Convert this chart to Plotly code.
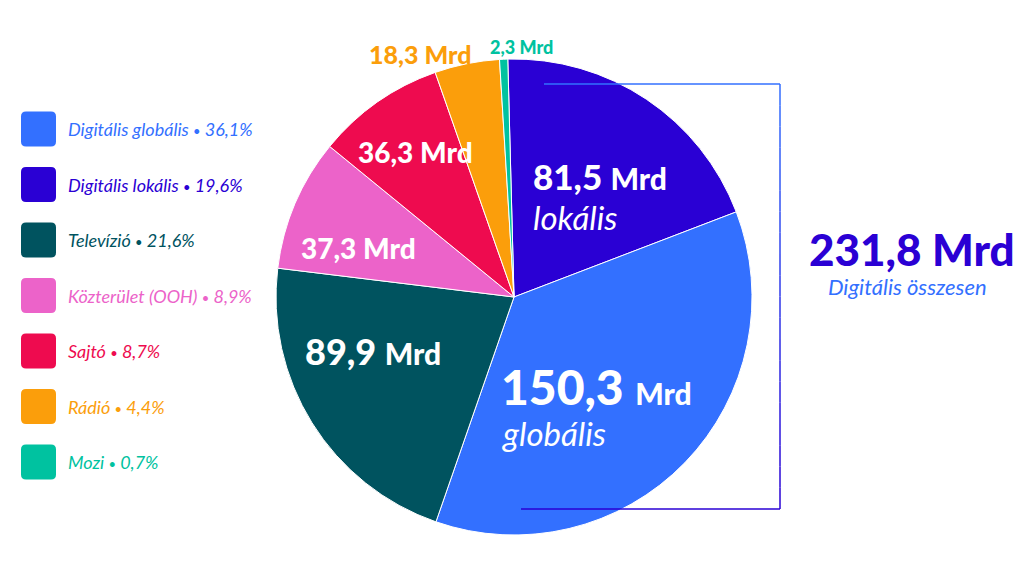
import plotly.graph_objects as go

# ---- data ----
categories = ["Digitális lokális", "Digitális globális", "Televízió",
              "Közterület (OOH)", "Sajtó", "Rádió", "Mozi"]
values = [81.5, 150.3, 89.9, 37.3, 36.3, 18.3, 2.3]
value_labels = ["81,5", "150,3", "89,9", "37,3", "36,3", "18,3", "2,3"]
sub_labels = ["lokális", "globális", "", "", "", "", ""]
colors = ["#2a00d4", "#3370ff", "#00535f", "#ec63c9", "#ee0b4f", "#fb9e0b", "#00c2a0"]

legend_cats = ["Digitális globális", "Digitális lokális", "Televízió",
               "Közterület (OOH)", "Sajtó", "Rádió", "Mozi"]
legend_pcts = ["36,1%", "19,6%", "21,6%", "8,9%", "8,7%", "4,4%", "0,7%"]

digital_total = "231,8"
digital_caption = "Digitális összesen"

W, H = 1024, 576
FONT = "Lato"
cmap = dict(zip(categories, colors))


def px(x, y):
    return x / W, 1 - y / H


fig = go.Figure()
fig.add_trace(go.Pie(
    labels=categories, values=values, sort=False, direction="clockwise",
    rotation=-1.5, marker=dict(colors=colors, line=dict(color="white", width=1)),
    textinfo="none", hoverinfo="none", showlegend=False,
    domain=dict(x=[276 / W, 752 / W], y=[1 - 535 / H, 1 - 59 / H]),
))

annotations = []
shapes = []


def add_text(x, y, text, size, color, weight="normal", style="normal"):
    ax, ay = px(x, y)
    annotations.append(dict(
        x=ax, y=ay, xref="paper", yref="paper", xanchor="left", yanchor="middle",
        text=text, showarrow=False,
        font=dict(family=FONT, size=size, color=color, weight=weight, style=style)))


def mixed(num, big, small):
    return (f"<span style='font-size:{big}px'>{num}</span> "
            f"<span style='font-size:{small}px'>Mrd</span>")


# slice labels
add_text(531, 176, mixed(value_labels[0], 35, 30), 35, "white", weight=900)
add_text(531, 217, sub_labels[0], 33, "white", style="italic")
add_text(499, 386, mixed(value_labels[1], 48, 30), 48, "white", weight=900)
add_text(500, 433, sub_labels[1], 33, "white", style="italic")
add_text(303, 351, mixed(value_labels[2], 36, 30), 36, "white", weight=900)
add_text(299, 248, mixed(value_labels[3], 28, 28), 28, "white", weight=900)
add_text(356, 152, mixed(value_labels[4], 28, 28), 28, "white", weight=900)
add_text(367, 54, mixed(value_labels[5], 25, 25), 25, cmap["Rádió"], weight=900)
add_text(488, 47, mixed(value_labels[6], 18, 18), 18, cmap["Mozi"], weight=900)

# digital total
add_text(807, 249, f"{digital_total} Mrd", 44, cmap["Digitális lokális"], weight=900)
add_text(826, 286, digital_caption, 22, cmap["Digitális globális"], style="italic")

# legend
for i, (cat, pct) in enumerate(zip(legend_cats, legend_pcts)):
    cy = 129 + i * 55.5
    x0, x1 = 21, 56
    y0, y1 = cy - 17.5, cy + 17.5
    r = 5
    X = lambda v: v / W
    Y = lambda v: 1 - v / H
    path = (f"M {X(x0 + r)},{Y(y0)} L {X(x1 - r)},{Y(y0)} Q {X(x1)},{Y(y0)} {X(x1)},{Y(y0 + r)} "
            f"L {X(x1)},{Y(y1 - r)} Q {X(x1)},{Y(y1)} {X(x1 - r)},{Y(y1)} "
            f"L {X(x0 + r)},{Y(y1)} Q {X(x0)},{Y(y1)} {X(x0)},{Y(y1 - r)} "
            f"L {X(x0)},{Y(y0 + r)} Q {X(x0)},{Y(y0)} {X(x0 + r)},{Y(y0)} Z")
    shapes.append(dict(type="path", path=path, xref="paper", yref="paper",
                       fillcolor=cmap[cat], line=dict(width=0)))
    add_text(66, cy, f"{cat} <span style='font-size:13px'>•</span> {pct}", 18, cmap[cat],
             style="italic")

# bracket (gradient from light to dark blue)
def lerp(c1, c2, t):
    a = [int(c1[i:i + 2], 16) for i in (1, 3, 5)]
    b = [int(c2[i:i + 2], 16) for i in (1, 3, 5)]
    return "#" + "".join(f"{round(a[k] + (b[k] - a[k]) * t):02x}" for k in range(3))

c_top, c_bot = "#3370ff", "#2a00d4"
bx, by0, by1 = 780, 84, 509
x0p, y0p = px(544, by0)
x1p, y1p = px(bx, by0)
shapes.append(dict(type="line", xref="paper", yref="paper", x0=x0p, y0=y0p, x1=x1p, y1=y1p,
                   line=dict(color=c_top, width=1.5)))
n = 20
for k in range(n):
    ya = by0 + (by1 - by0) * k / n
    yb = by0 + (by1 - by0) * (k + 1) / n
    shapes.append(dict(type="line", xref="paper", yref="paper",
                       x0=bx / W, y0=1 - ya / H, x1=bx / W, y1=1 - yb / H,
                       line=dict(color=lerp(c_top, c_bot, (k + 0.5) / n), width=1.5)))
x0p, y0p = px(521, by1)
x1p, y1p = px(bx, by1)
shapes.append(dict(type="line", xref="paper", yref="paper", x0=x0p, y0=y0p, x1=x1p, y1=y1p,
                   line=dict(color=c_bot, width=1.5)))

fig.update_layout(
    width=W, height=H, margin=dict(l=0, r=0, t=0, b=0),
    paper_bgcolor="white", plot_bgcolor="white",
    annotations=annotations, shapes=shapes, showlegend=False,
)

fig.write_html("out.html", config={"displayModeBar": False},
               post_script="document.body.style.margin='0';document.body.style.overflow='hidden';")
